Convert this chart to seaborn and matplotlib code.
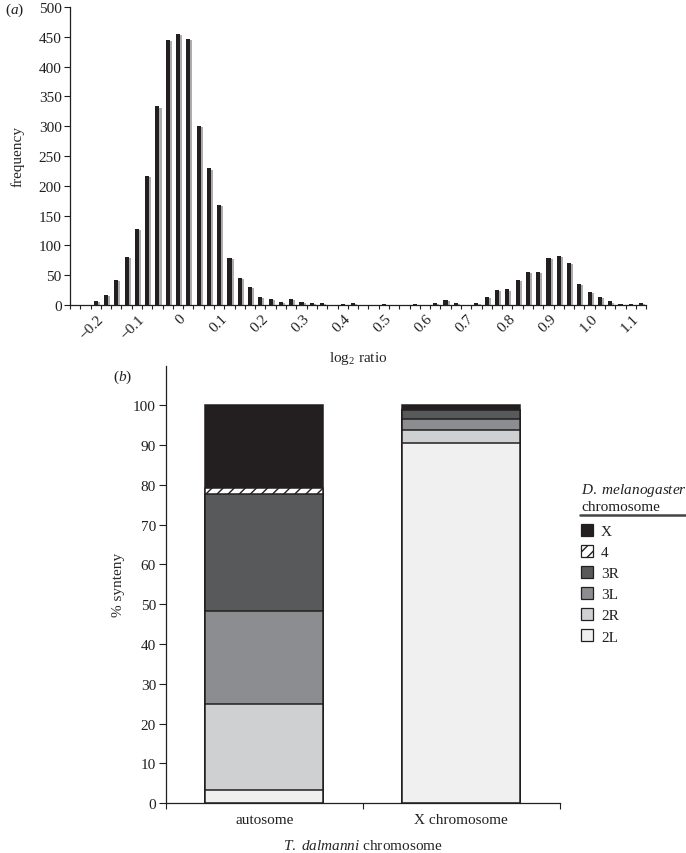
import numpy as np
import matplotlib
matplotlib.use("Agg")
import matplotlib.pyplot as plt
import matplotlib.patheffects as pe
from matplotlib.patches import Patch
from matplotlib.lines import Line2D
import seaborn as sns

# --- data: panel (a) histogram of log2 ratios ---
BIN_CENTRES = [-0.275, -0.25, -0.225, -0.2, -0.175, -0.15, -0.125, -0.1,
               -0.075, -0.05, -0.025, 0.0, 0.025, 0.05, 0.075, 0.1,
               0.125, 0.15, 0.175, 0.2, 0.225, 0.25, 0.275, 0.3,
               0.325, 0.35, 0.375, 0.4, 0.425, 0.45, 0.475, 0.5,
               0.525, 0.55, 0.575, 0.6, 0.625, 0.65, 0.675, 0.7,
               0.725, 0.75, 0.775, 0.8, 0.825, 0.85, 0.875, 0.9,
               0.925, 0.95, 0.975, 1.0, 1.025, 1.05, 1.075, 1.1]
FREQ = [0, 0, 7, 17, 42, 80, 128, 217,
        333, 444, 454, 447, 300, 229, 168, 79,
        45, 31, 14, 10, 5, 10, 5, 3,
        3, 0, 1, 3, 0, 0, 2, 0,
        0, 2, 0, 3, 8, 3, 0, 4,
        13, 25, 26, 42, 55, 55, 79, 82,
        70, 36, 22, 13, 6, 1, 1, 4]
XTICKS = [-0.2, -0.1, 0.0, 0.1, 0.2, 0.3, 0.4, 0.5, 0.6, 0.7, 0.8, 0.9, 1.0, 1.1]
XTICK_LABELS = ["\u22120.2", "\u22120.1", "0", "0.1", "0.2", "0.3", "0.4",
                "0.5", "0.6", "0.7", "0.8", "0.9", "1.0", "1.1"]
BIN_WIDTH = 0.025

# --- data: panel (b) synteny, bottom -> top ---
GROUPS = ["autosome", "X chromosome"]
SEGMENTS = ["2L", "2R", "3L", "3R", "4", "X"]
SYNTENY = {
    "2L": [3.2, 90.6],
    "2R": [21.8, 3.3],
    "3L": [23.4, 2.6],
    "3R": [29.4, 2.3],
    "4":  [1.4, 0.0],
    "X":  [20.8, 1.2],
}
SEG_COLORS = {"2L": "#f0f0f0", "2R": "#cfd0d2", "3L": "#8c8d90",
              "3R": "#58595b", "4": "#ffffff", "X": "#231f20"}
SEG_HATCH = {"4": "///"}

INK = "#231f20"

sns.set_style("ticks")
plt.rcParams["font.family"] = ["Liberation Serif", "DejaVu Serif"]
plt.rcParams["mathtext.fontset"] = "custom"
plt.rcParams["mathtext.rm"] = "Liberation Serif"
plt.rcParams["mathtext.it"] = "Liberation Serif:italic"
plt.rcParams["font.size"] = 11
plt.rcParams["hatch.linewidth"] = 1.0
plt.rcParams["axes.edgecolor"] = INK
plt.rcParams["xtick.color"] = INK
plt.rcParams["ytick.color"] = INK
plt.rcParams["text.color"] = INK

fig = plt.figure(figsize=(6.86, 8.54), dpi=100)

# ---------------- panel (a) ----------------
ax1 = fig.add_axes([0.102, 0.6417, 0.840, 0.349])
sns.barplot(x=BIN_CENTRES, y=FREQ, native_scale=True, width=0.40,
            color=INK, saturation=1, errorbar=None, linewidth=0, ax=ax1)
for bar in ax1.patches:
    bar.set_path_effects([pe.SimplePatchShadow(offset=(1.5, -0.8),
                                               shadow_rgbFace="#acacac", alpha=1.0),
                          pe.Normal()])
ax1.set_xlim(BIN_CENTRES[0] - BIN_WIDTH / 2, BIN_CENTRES[-1] + BIN_WIDTH / 2)
ax1.set_ylim(0, 500)
ax1.set_yticks(range(0, 501, 50))
ax1.set_xticks(XTICKS)
ax1.set_xticklabels(XTICK_LABELS, rotation=45, ha="right")
edges = np.array(BIN_CENTRES) - BIN_WIDTH / 2
ax1.set_xticks(list(edges) + [BIN_CENTRES[-1] + BIN_WIDTH / 2], minor=True)
ax1.tick_params(axis="x", which="major", length=0, pad=5)
ax1.tick_params(axis="x", which="minor", length=3, width=0.8, direction="out")
ax1.tick_params(axis="y", length=4, width=0.8, pad=2)
sns.despine(ax=ax1)
for s in ("left", "bottom"):
    ax1.spines[s].set_linewidth(0.9)
ax1.set_ylabel("frequency", labelpad=10)
ax1.set_xlabel("log$_2$ ratio", labelpad=6)
ax1.grid(False)

# ---------------- panel (b) ----------------
ax2 = fig.add_axes([0.2415, 0.0585, 0.5745, 0.5121])
cum = np.cumsum([SYNTENY[s] for s in SEGMENTS], axis=0)
for i in range(len(SEGMENTS) - 1, -1, -1):
    seg = SEGMENTS[i]
    sns.barplot(x=GROUPS, y=cum[i], color=SEG_COLORS[seg], saturation=1,
                errorbar=None, width=0.6, edgecolor=INK, linewidth=1.1,
                hatch=SEG_HATCH.get(seg, None), ax=ax2)
ax2.set_xlim(-0.5, 1.5)
ax2.set_ylim(0, 110)
ax2.set_yticks(range(0, 101, 10))
ax2.set_xticks([-0.5, 0.5, 1.5], minor=True)
ax2.tick_params(axis="x", which="major", length=0, pad=7)
ax2.tick_params(axis="x", which="minor", length=4, width=0.8)
ax2.tick_params(axis="y", length=5, width=0.8, pad=2)
sns.despine(ax=ax2)
for s in ("left", "bottom"):
    ax2.spines[s].set_linewidth(0.9)
ax2.set_ylabel("% synteny", labelpad=6)
ax2.set_xlabel(r"$\it{T.\ dalmanni}$ chromosome", labelpad=9)
ax2.grid(False)

handles = [Patch(facecolor=SEG_COLORS[s], edgecolor=INK, linewidth=0.9,
                 hatch=SEG_HATCH.get(s, None), label=s) for s in SEGMENTS[::-1]]
leg = fig.legend(handles=handles, loc="upper left",
                 bbox_to_anchor=(575 / 686, 1 - 476 / 854),
                 title=r"$\it{D.\ melanogaster}$" + "\nchromosome",
                 frameon=False, fontsize=11, title_fontsize=11,
                 handlelength=0.8, handleheight=0.8, handletextpad=0.5,
                 labelspacing=0.45, alignment="left", borderaxespad=0)
leg._legend_box.sep = 8
fig.add_artist(Line2D([580 / 686, 1.0], [1 - 516 / 854, 1 - 516 / 854],
                      color="#444444", linewidth=1.8, transform=fig.transFigure))

fig.text(5 / 686, 1 - 10 / 854, r"($\it{a}$)", ha="left", va="center")
fig.text(113 / 686, 1 - 377 / 854, r"($\it{b}$)", ha="left", va="center")

fig.savefig("out.png", dpi=100)
